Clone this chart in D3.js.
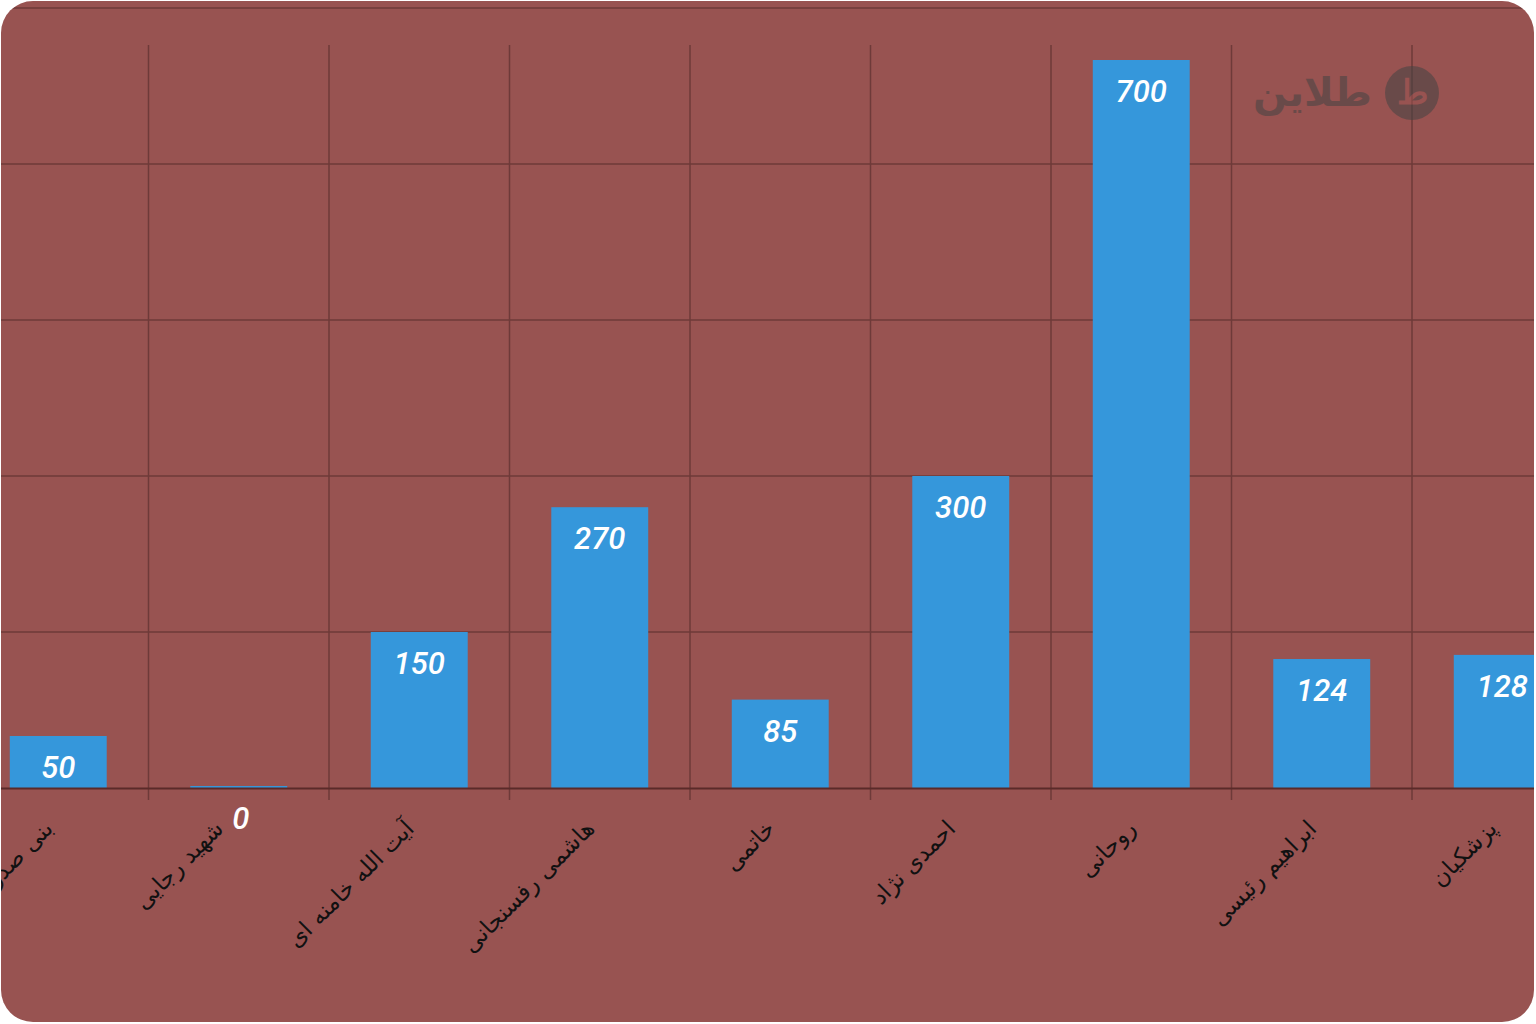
<!DOCTYPE html>
<html><head><meta charset="utf-8">
<script src="https://cdn.jsdelivr.net/npm/d3@7"></script>
<style>body{margin:0;background:#fff}</style>
</head><body>
<script>
const categories = ["بنی صدر","شهید رجایی","آیت الله خامنه ای","هاشمی رفسنجانی","خاتمی","احمدی نژاد","روحانی","ابراهیم رئیسی","پزشکیان"];
const values = [50, 0, 150, 270, 85, 300, 700, 124, 128];
const yTicks = [0, 150, 300, 450, 600, 750];

const W = 1536, H = 1024;
const svg = d3.select("body").append("svg").attr("width", W).attr("height", H);
svg.append("clipPath").attr("id", "clip")
  .append("rect").attr("x", 1).attr("y", 1).attr("width", 1533).attr("height", 1021).attr("rx", 32);
const g = svg.append("g").attr("clip-path", "url(#clip)");
g.append("rect").attr("width", W).attr("height", H).attr("fill", "#985351");

const pi = 0.463;
const x = d3.scaleBand().domain(categories).range([-32, -32 + 9 * 180.5]).paddingInner(pi).paddingOuter(pi / 2);
const y = d3.scaleLinear().domain([0, 750]).range([788, 8]);
const step = x.step();

// horizontal grid
g.selectAll("line.h").data(yTicks.slice(1)).enter().append("line")
  .attr("x1", 0).attr("x2", W).attr("y1", d => y(d)).attr("y2", d => y(d))
  .attr("stroke", "#6e3a39").attr("stroke-width", 1.5);
// vertical grid
g.selectAll("line.v").data(categories.slice(1)).enter().append("line")
  .attr("x1", d => x(d) - step * pi / 2).attr("x2", d => x(d) - step * pi / 2)
  .attr("y1", 45).attr("y2", 800)
  .attr("stroke", "#6e3a39").attr("stroke-width", 1.5);

// bars
g.selectAll("rect.bar").data(values).enter().append("rect")
  .attr("x", (d, i) => x(categories[i])).attr("width", x.bandwidth())
  .attr("y", d => y(d) - (d === 0 ? 2 : 0)).attr("height", d => Math.max(2, y(0) - y(d)))
  .attr("fill", "#3597db");

// baseline
g.append("line").attr("x1", 0).attr("x2", W).attr("y1", 788.5).attr("y2", 788.5)
  .attr("stroke", "#5a2a29").attr("stroke-width", 2);

// value labels
g.selectAll("text.val").data(values).enter().append("text")
  .attr("x", (d, i) => x(categories[i]) + x.bandwidth() / 2 + (d === 0 ? 2 : 0))
  .attr("y", d => d === 0 ? 829 : y(d) + 42)
  .attr("text-anchor", "middle")
  .attr("font-family", "Roboto, sans-serif").attr("font-style", "italic").attr("font-weight", 500)
  .attr("font-size", 31).attr("fill", "#fff")
  .text(d => d);

// category labels
g.selectAll("text.cat").data(categories).enter().append("text")
  .attr("transform", (d, i) => `translate(${x(d) + x.bandwidth() / 2 - (i === 1 ? 14 : 4)},${830}) rotate(-45)`)
  .attr("text-anchor", "end")
  .attr("font-family", "'DejaVu Sans', sans-serif").attr("font-size", 23).attr("fill", "#111")
  .text(d => d);

// logo
const logo = g.append("g").attr("opacity", 0.55);
logo.append("circle").attr("cx", 1412).attr("cy", 93).attr("r", 27).attr("fill", "#444");
logo.append("text").attr("x", 1412).attr("y", 104).attr("text-anchor", "middle")
  .attr("font-family", "'Noto Sans', sans-serif").attr("font-weight", 700).attr("font-size", 34)
  .attr("fill", "#985351").text("ط");
logo.append("text").attr("x", 1372).attr("y", 106).attr("text-anchor", "end")
  .attr("font-family", "'Noto Sans', 'DejaVu Sans', sans-serif").attr("font-weight", 700).attr("font-size", 40)
  .attr("fill", "#444").text("طلاین");
</script>
</body></html>
